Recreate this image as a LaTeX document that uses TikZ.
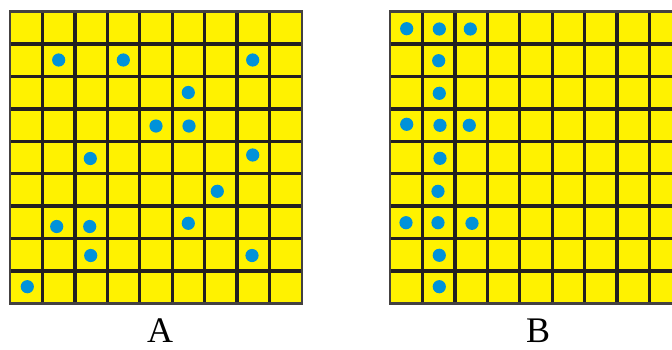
\documentclass[tikz,border=0pt]{standalone}
\usepackage{fontspec}
\setmainfont{Liberation Serif}
\definecolor{cellyellow}{RGB}{255,242,0}
\definecolor{dotblue}{RGB}{0,146,218}
\definecolor{gridline}{RGB}{35,31,32}
\begin{document}
\begin{tikzpicture}[x=1pt,y=-1pt,
  gridl/.style={draw=gridline,line width=3.4pt},
  border/.style={draw=gridline!85!white,line width=2.6pt},
  dot/.style={fill=dotblue},
  lbl/.style={font=\fontsize{36}{40}\selectfont,anchor=base,inner sep=0pt}]
\useasboundingbox (0,0) rectangle (672,349);
% grid A
\fill[cellyellow] (10,11.5) rectangle (302,303.5);
\foreach \k in {1,...,8}{
  \draw[gridl] (10+\k*32.44,11.5) -- (10+\k*32.44,303.5);
  \draw[gridl] (10,11.5+\k*32.44) -- (302,11.5+\k*32.44);
}
\draw[border] (10,11.5) rectangle (302,303.5);
% grid B
\fill[cellyellow] (390,11.5) rectangle (682,303.5);
\foreach \k in {1,...,8}{
  \draw[gridl] (390+\k*32.44,11.5) -- (390+\k*32.44,303.5);
  \draw[gridl] (390,11.5+\k*32.44) -- (682,11.5+\k*32.44);
}
\draw[border] (390,11.5) rectangle (682,303.5);
% dots A
\foreach \x/\y in {58.7/60,123.3/60,252.7/60,188.3/92.5,156/126,189/126,
  90.3/158.5,252.7/155,217.3/191.3,56.7/226.5,89.7/226.5,188.3/223.3,
  90.7/255.5,252/255.5,27.3/286.7}
  \fill[dot] (\x,\y) circle (6.6);
% dots B
\foreach \x/\y in {406.7/28.7,439.3/29,470.3/29,438.7/60.7,439.3/93.3,
  406.7/124.3,440/125.3,469.3/125.3,440/158.3,438/191.3,
  406/222.7,438/222.7,472/223.3,439.3/255.3,439.3/286.7}
  \fill[dot] (\x,\y) circle (6.6);
% labels
\node[lbl] (labA) at (160,342) {A};
\node[lbl] (labB) at (538,342) {B};
\end{tikzpicture}
\end{document}
